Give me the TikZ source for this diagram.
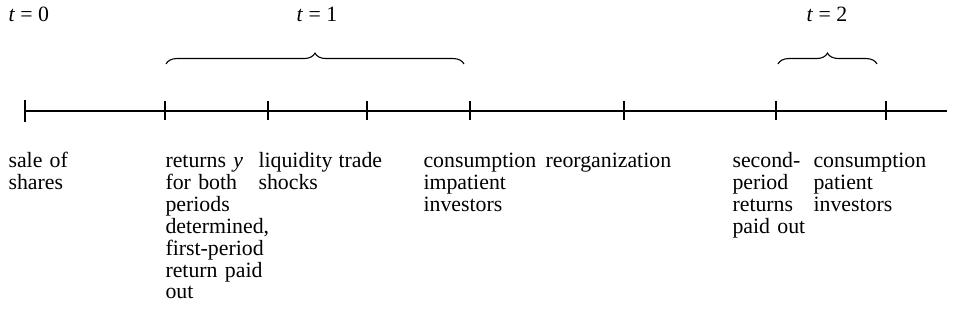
\documentclass[tikz,border=0pt]{standalone}
\usepackage{fontspec}
\setmainfont{Liberation Serif}
\usetikzlibrary{decorations.pathreplacing}

\begin{document}
\begin{tikzpicture}[x=0.55pt,y=-0.55pt,line width=0.6pt,
	txt/.style={inner sep=0pt,font=\fontsize{12}{12}\selectfont},
	event/.style={txt,anchor=base west,align=left,text width=90pt},
	period/.style={txt,anchor=base},
	brc/.style={decorate,decoration={brace,amplitude=6pt}}]
\useasboundingbox (0,0) rectangle (962,330);

% dates
\node[period,anchor=base west]	(T0) at (8,22)		{\textit{t} = 0};
\node[period]		(T1) at (317,22)	{\textit{t} = 1};
\node[period]		(T2) at (827,22)	{\textit{t} = 2};

% time axis
\coordinate (S) at (25,111);
\coordinate (E) at (947,111);
\draw (S) -- (E);
\draw ([yshift=6pt]S) -- ([yshift=-6pt]S);
\foreach \x/\n in {165/a,268/b,367/c,470/d,624/e,776/f,886/g}{
	\coordinate (\n) at (\x,111);
	\draw ([yshift=5.5pt]\n) -- ([yshift=-5pt]\n);
}

% braces
\coordinate (B1) at (166,64);
\coordinate (B2) at (464,64);
\coordinate (B3) at (778,64);
\coordinate (B4) at (877,64);
\draw[brc] (B1) -- (B2);
\draw[brc] (B3) -- (B4);

% events
\node[event]	(sale) at (8,168)		{sale of\\shares};
\node[event]	(ret) at (165,168)		{returns \textit{y}\\for both\\periods\\determined,\\first-period\\return paid\\out};
\node[event]	(liq) at (258,168)		{liquidity\\shocks};
\node[event]	(trade) at (338,168)	{trade};
\node[event]	(cimp) at (423,168)		{consumption\\impatient\\investors};
\node[event]	(reorg) at (545,168)	{reorganization};
\node[event]	(sec) at (732,168)		{second-\\period\\returns\\paid out};
\node[event]	(cpat) at (813,168)		{consumption\\patient\\investors};

\end{tikzpicture}
\end{document}
